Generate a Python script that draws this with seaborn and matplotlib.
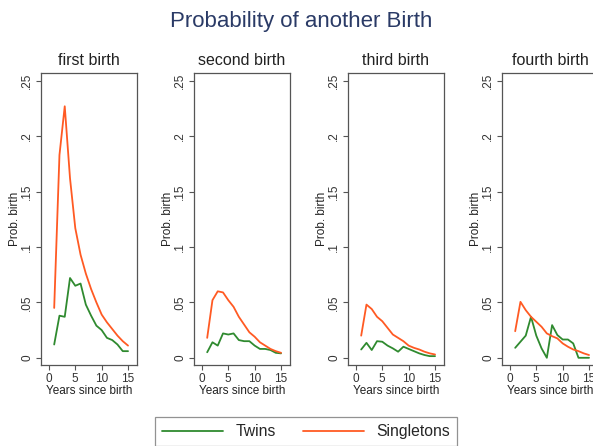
import matplotlib
matplotlib.use("Agg")
import matplotlib.pyplot as plt
import seaborn as sns
import pandas as pd
import numpy as np

years = list(range(1, 16))
panel_titles = ["first birth", "second birth", "third birth", "fourth birth"]
series_names = ["Twins", "Singletons"]

twins_first = [0.012, 0.038, 0.037, 0.072, 0.065, 0.067, 0.048, 0.038, 0.029, 0.025, 0.018, 0.016, 0.012, 0.006, 0.006]
singl_first = [0.045, 0.183, 0.227, 0.162, 0.117, 0.093, 0.076, 0.062, 0.050, 0.039, 0.032, 0.026, 0.020, 0.015, 0.011]

twins_second = [0.005, 0.014, 0.011, 0.022, 0.021, 0.022, 0.016, 0.015, 0.015, 0.011, 0.008, 0.008, 0.007, 0.0045, 0.004]
singl_second = [0.018, 0.052, 0.060, 0.059, 0.052, 0.046, 0.037, 0.030, 0.023, 0.019, 0.014, 0.011, 0.008, 0.006, 0.0045]

twins_third = [0.0075, 0.0135, 0.007, 0.015, 0.0145, 0.011, 0.0085, 0.0055, 0.010, 0.008, 0.006, 0.004, 0.0025, 0.0015, 0.0015]
singl_third = [0.020, 0.048, 0.044, 0.037, 0.033, 0.027, 0.021, 0.018, 0.015, 0.011, 0.009, 0.0075, 0.0055, 0.004, 0.003]

twins_fourth = [0.009, 0.0145, 0.020, 0.037, 0.020, 0.0085, 0.0, 0.0295, 0.0205, 0.0165, 0.0165, 0.013, 0.0, 0.0, 0.0]
singl_fourth = [0.024, 0.0505, 0.043, 0.037, 0.0325, 0.028, 0.022, 0.0195, 0.0175, 0.013, 0.010, 0.0075, 0.006, 0.004, 0.0025]

twins_all = [twins_first, twins_second, twins_third, twins_fourth]
singl_all = [singl_first, singl_second, singl_third, singl_fourth]

ytick_vals = [0, 0.05, 0.1, 0.15, 0.2, 0.25]
ytick_labels = ["0", ".05", ".1", ".15", ".2", ".25"]
xtick_vals = [0, 5, 10, 15]

sns.set_theme(style="white")
plt.rcParams["font.family"] = ["Liberation Sans", "DejaVu Sans"]

W, H = 593, 446
fig = plt.figure(figsize=(W / 100, H / 100), dpi=100)
fig.patch.set_facecolor("white")

palette = {"Twins": "#2f8a2f", "Singletons": "#ff5a23"}
lefts = [41, 194, 348, 502]
top, bottom, width = 73, 365, 96

handles = None
for i, title in enumerate(panel_titles):
    ax = fig.add_axes([lefts[i] / W, (H - bottom) / H, width / W, (bottom - top) / H])
    df = pd.DataFrame({
        "year": years * 2,
        "prob": twins_all[i] + singl_all[i],
        "group": ["Twins"] * len(years) + ["Singletons"] * len(years),
    })
    sns.lineplot(data=df, x="year", y="prob", hue="group", hue_order=series_names,
                 palette=palette, ax=ax, linewidth=1.3, legend=True)
    handles, labels = ax.get_legend_handles_labels()
    ax.get_legend().remove()
    ax.set_xlim(-1.5, 16.7)
    ax.set_ylim(-0.0065, 0.257)
    ax.set_xticks(xtick_vals)
    ax.set_xticklabels([str(v) for v in xtick_vals], fontsize=8.5, color="#333333")
    ax.set_yticks(ytick_vals)
    ax.set_yticklabels(ytick_labels, fontsize=8.5, rotation=90, va="center", color="#333333")
    ax.tick_params(axis="both", direction="out", length=3.5, width=0.8, colors="#555555",
                   labelcolor="#333333", pad=2)
    ax.tick_params(left=True, bottom=True)
    ax.set_xlabel("Years since birth", fontsize=8.5, color="#222222", labelpad=0)
    ax.set_ylabel("Prob. birth", fontsize=8.5, color="#222222", labelpad=0)
    ax.set_title(title, fontsize=11.5, color="#222222", pad=6)
    for s in ax.spines.values():
        s.set_visible(True)
        s.set_color("#555555")
        s.set_linewidth(0.9)
    ax.grid(False)

fig.text(301 / W, 1 - 22 / H, "Probability of another Birth", ha="center", va="center",
         fontsize=16, color="#2a3a66")

leg = fig.legend(handles, series_names, loc="upper center",
                 bbox_to_anchor=(306 / W, 1 - 417 / H), ncol=2, fontsize=11.3,
                 frameon=True, fancybox=False, edgecolor="#777777",
                 handlelength=3.9, columnspacing=1.7, handletextpad=0.8,
                 borderpad=0.45, borderaxespad=0)
leg.get_frame().set_linewidth(0.9)
for line in leg.get_lines():
    line.set_linewidth(1.3)

fig.savefig("out.png", dpi=100, facecolor="white")
